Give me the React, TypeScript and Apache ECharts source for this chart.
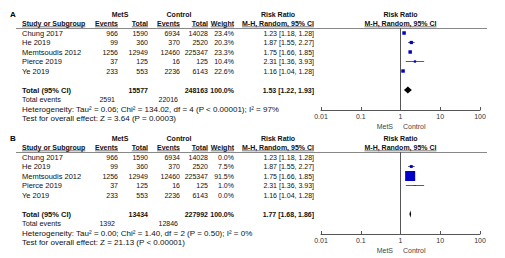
import React, { useEffect, useRef } from 'react';
import * as echarts from 'echarts';

// ---------- data ----------
const studies = ['Chung 2017', 'He 2019', 'Memtsoudis 2012', 'Pierce 2019', 'Ye 2019'];
const metsEvents = [966, 99, 1256, 37, 233];
const metsTotal = [1590, 360, 12949, 125, 553];
const ctrlEvents = [6934, 370, 12460, 16, 2236];
const ctrlTotal = [14028, 2520, 225347, 125, 6143];
const rr = [1.23, 1.87, 1.75, 2.31, 1.16];
const rrLow = [1.18, 1.55, 1.66, 1.36, 1.04];
const rrHigh = [1.28, 2.27, 1.85, 3.93, 1.28];

const panelLabels = ['A', 'B'];
const weightsA = [23.4, 20.3, 23.3, 10.4, 22.6];
const weightsB = [0.0, 7.5, 91.5, 1.0, 0.0];
const pooledRR = [1.53, 1.77];
const pooledLow = [1.22, 1.68];
const pooledHigh = [1.93, 1.86];
const totalMets = [15577, 13434];
const totalCtrl = [248163, 227992];
const totalEventsMets = [2591, 1392];
const totalEventsCtrl = [22016, 12846];
const heterogeneity = [
  'Heterogeneity: Tau² = 0.06; Chi² = 134.02, df = 4 (P < 0.00001); I² = 97%',
  'Heterogeneity: Tau² = 0.00; Chi² = 1.40, df = 2 (P = 0.50); I² = 0%',
];
const overallTest = [
  'Test for overall effect: Z = 3.64 (P = 0.0003)',
  'Test for overall effect: Z = 21.13 (P < 0.00001)',
];
const xTickLabels = ['0.01', '0.1', '1', '10', '100'];

// ---------- layout / style ----------
const FONT = '"Liberation Sans", Arial, Helvetica, sans-serif';
const FS = 7;
const FS_NAME = 7.5;
const FS_NOTE = 8;
const PANEL_OFFSET = [0, 124];
const ROW0 = 33;
const ROW_H = 9.5;
const GRID_TOP = 28;
const GRID_H = 82;
const X_LEFT = 321;
const X_RIGHT = 480;
const MARKER_SCALE = [0.72, 1.05];
const BLUE = '#0000c8';

const COL = {
  study: 22,
  metsEv: 118,
  metsTot: 148,
  ctrlEv: 180,
  ctrlTot: 208,
  weight: 234,
  rr: 314,
};

function measure(t: string, bold: boolean) {
  const c = document.createElement('canvas').getContext('2d')!;
  c.font = `${bold ? 'bold ' : ''}${FS}px ${FONT}`;
  return c.measureText(t).width;
}

function txt(x: number, y: number, s: string, align: string, bold = false, color = '#111', size = FS) {
  return {
    type: 'text',
    silent: true,
    style: {
      text: s,
      x,
      y,
      fontSize: size,
      fontFamily: FONT,
      fontWeight: bold ? 'bold' : 'normal',
      fill: color,
      textAlign: align,
      align,
      textVerticalAlign: 'middle',
      verticalAlign: 'middle',
    },
  };
}

function underline(x: number, y: number, s: string, align: string) {
  const w = measure(s, true);
  const x1 = align === 'left' ? x : align === 'right' ? x - w : x - w / 2;
  return {
    type: 'line',
    silent: true,
    shape: { x1, y1: y, x2: x1 + w, y2: y },
    style: { stroke: '#222', lineWidth: 0.6 },
  };
}

function buildOption() {
  const graphic: any[] = [];
  const grids: any[] = [];
  const xAxes: any[] = [];
  const yAxes: any[] = [];
  const series: any[] = [];
  const weights = [weightsA, weightsB];
  const yMin = -(ROW0 - GRID_TOP) / ROW_H;
  const yMax = yMin + GRID_H / ROW_H;

  panelLabels.forEach((lab, p) => {
    const off = PANEL_OFFSET[p];
    const rowY = (i: number) => off + ROW0 + ROW_H * i;
    const h1 = off + 14.5;
    const h2 = off + 23.5;
    const ul = off + 26.8;

    graphic.push(txt(10, off + 14, lab, 'left', true, '#000', 8));
    // header row 1
    graphic.push(txt(120, h1, 'MetS', 'center', true));
    graphic.push(txt(179, h1, 'Control', 'center', true));
    graphic.push(txt(278, h1, 'Risk Ratio', 'center', true));
    graphic.push(txt((X_LEFT + X_RIGHT) / 2, h1, 'Risk Ratio', 'center', true));
    // header row 2
    const hdr: [number, string, string][] = [
      [COL.study, 'Study or Subgroup', 'left'],
      [COL.metsEv, 'Events', 'right'],
      [COL.metsTot, 'Total', 'right'],
      [COL.ctrlEv, 'Events', 'right'],
      [COL.ctrlTot, 'Total', 'right'],
      [COL.weight, 'Weight', 'right'],
      [278, 'M-H, Random, 95% CI', 'center'],
      [(X_LEFT + X_RIGHT) / 2, 'M-H, Random, 95% CI', 'center'],
    ];
    hdr.forEach(([x, s, a]) => {
      graphic.push(txt(x, h2, s, a, true));
      graphic.push(underline(x, ul, s, a));
    });
    graphic.push({
      type: 'line',
      silent: true,
      shape: { x1: 16, y1: off + GRID_TOP + 0.5, x2: 487, y2: off + GRID_TOP + 0.5 },
      style: { stroke: '#888', lineWidth: 1 },
    });

    // study rows
    studies.forEach((s, i) => {
      const y = rowY(i);
      graphic.push(txt(COL.study, y, s, 'left', false, '#111', FS_NAME));
      graphic.push(txt(COL.metsEv, y, String(metsEvents[i]), 'right'));
      graphic.push(txt(COL.metsTot, y, String(metsTotal[i]), 'right'));
      graphic.push(txt(COL.ctrlEv, y, String(ctrlEvents[i]), 'right'));
      graphic.push(txt(COL.ctrlTot, y, String(ctrlTotal[i]), 'right'));
      graphic.push(txt(COL.weight, y, weights[p][i].toFixed(1) + '%', 'right'));
      graphic.push(
        txt(COL.rr, y, `${rr[i].toFixed(2)} [${rrLow[i].toFixed(2)}, ${rrHigh[i].toFixed(2)}]`, 'right'),
      );
    });
    // totals
    const yt = rowY(6);
    graphic.push(txt(COL.study, yt, 'Total (95% CI)', 'left', true, '#111', FS_NAME));
    graphic.push(txt(COL.metsTot, yt, String(totalMets[p]), 'right', true));
    graphic.push(txt(COL.ctrlTot, yt, String(totalCtrl[p]), 'right', true));
    graphic.push(txt(COL.weight, yt, '100.0%', 'right', true));
    graphic.push(
      txt(
        COL.rr,
        yt,
        `${pooledRR[p].toFixed(2)} [${pooledLow[p].toFixed(2)}, ${pooledHigh[p].toFixed(2)}]`,
        'right',
        true,
      ),
    );
    graphic.push(txt(COL.study, rowY(7), 'Total events', 'left', false, '#111', 7.3));
    graphic.push(txt(COL.metsEv - 3, rowY(7), String(totalEventsMets[p]), 'right'));
    graphic.push(txt(COL.ctrlEv - 2, rowY(7), String(totalEventsCtrl[p]), 'right'));
    graphic.push(txt(COL.study, rowY(8), heterogeneity[p], 'left', false, '#111', FS_NOTE));
    graphic.push(txt(COL.study, rowY(9), overallTest[p], 'left', false, '#111', FS_NOTE));

    // favours labels
    const fy = off + GRID_TOP + GRID_H + 16;
    graphic.push(txt(393, fy, 'MetS', 'right', false, '#444'));
    graphic.push(txt(403, fy, 'Control', 'left', false, '#444'));

    // grid + axes
    grids.push({ left: X_LEFT, width: X_RIGHT - X_LEFT, top: off + GRID_TOP, height: GRID_H });
    xAxes.push({
      type: 'log',
      logBase: 10,
      gridIndex: p,
      min: 0.01,
      max: 100,
      axisLine: { onZero: false, lineStyle: { color: '#555', width: 1 } },
      axisTick: { inside: true, length: 3, lineStyle: { color: '#555' } },
      splitLine: { show: false },
      axisLabel: {
        fontSize: FS,
        fontFamily: FONT,
        color: '#333',
        margin: 3,
        formatter: (v: number) => {
          const k = Math.round(Math.log10(v)) + 2;
          return xTickLabels[k] ?? String(v);
        },
      },
    });
    yAxes.push({ type: 'value', gridIndex: p, inverse: true, min: yMin, max: yMax, show: false });

    const data = studies
      .map((_, i) => [rr[i], rrLow[i], rrHigh[i], i, weights[p][i]])
      .filter((d) => d[4] > 0);
    series.push({
      type: 'custom',
      xAxisIndex: p,
      yAxisIndex: p,
      data,
      encode: { x: [0, 1, 2], y: 3 },
      renderItem: (_params: any, api: any) => {
        const row = api.value(3);
        const c = api.coord([api.value(0), row]);
        const lo = api.coord([api.value(1), row]);
        const hi = api.coord([api.value(2), row]);
        const s = MARKER_SCALE[p] * Math.sqrt(api.value(4));
        return {
          type: 'group',
          children: [
            {
              type: 'line',
              shape: { x1: lo[0], y1: c[1], x2: hi[0], y2: c[1] },
              style: { stroke: '#333', lineWidth: 0.8 },
            },
            {
              type: 'rect',
              shape: { x: c[0] - s / 2, y: c[1] - s / 2, width: s, height: s },
              style: { fill: BLUE },
            },
          ],
        };
      },
      markLine: {
        silent: true,
        symbol: 'none',
        label: { show: false },
        lineStyle: { color: '#555', type: 'solid', width: 1 },
        data: [{ xAxis: 1 }],
      },
    });
    series.push({
      type: 'custom',
      xAxisIndex: p,
      yAxisIndex: p,
      data: [[pooledRR[p], pooledLow[p], pooledHigh[p], 6]],
      encode: { x: [0, 1, 2], y: 3 },
      renderItem: (_params: any, api: any) => {
        const row = api.value(3);
        const c = api.coord([api.value(0), row]);
        const lo = api.coord([api.value(1), row]);
        const hi = api.coord([api.value(2), row]);
        return {
          type: 'polygon',
          shape: {
            points: [
              [lo[0], c[1]],
              [c[0], c[1] - 3.5],
              [hi[0], c[1]],
              [c[0], c[1] + 3.5],
            ],
          },
          style: { fill: '#000' },
        };
      },
    });
  });

  return {
    animation: false,
    backgroundColor: '#fff',
    textStyle: { fontFamily: FONT },
    grid: grids,
    xAxis: xAxes,
    yAxis: yAxes,
    series,
    graphic,
  };
}

export default function App() {
  const ref = useRef<HTMLDivElement>(null);
  useEffect(() => {
    if (!ref.current) return;
    const chart = echarts.init(ref.current, undefined, { renderer: 'svg' });
    chart.setOption(buildOption() as any);
    return () => chart.dispose();
  }, []);
  return (
    <div
      ref={ref}
      style={{ position: 'absolute', left: 0, top: 0, width: 505, height: 258, background: '#fff' }}
    />
  );
}
